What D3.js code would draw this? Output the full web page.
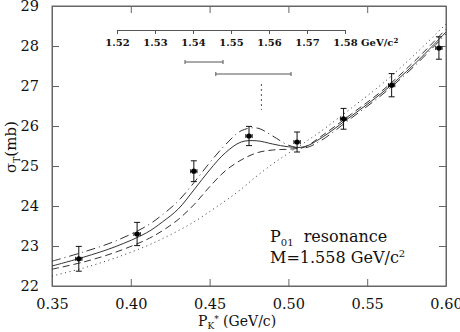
<!DOCTYPE html>
<html>
<head>
<meta charset="utf-8">
<script src="https://cdn.jsdelivr.net/npm/d3@7"></script>
<style>
  body { margin: 0; background: #fff; }
  text { font-family: "DejaVu Serif", "Liberation Serif", serif; fill: #111; }
</style>
</head>
<body>
<div id="chart"></div>
<script>
// set the dimensions and margins of the graph
var margin = {top: 6, right: 14, bottom: 46, left: 52},
    width = 460 - margin.left - margin.right,
    height = 332 - margin.top - margin.bottom;

// model curves
var pGrid        = [0.35, 0.37, 0.39, 0.41, 0.42, 0.43, 0.44, 0.45, 0.46, 0.47, 0.48, 0.49, 0.50, 0.51, 0.52, 0.54, 0.56, 0.58, 0.60];
var solidVals    = [22.50, 22.72, 22.98, 23.33, 23.60, 23.92, 24.40, 24.90, 25.33, 25.60, 25.63, 25.55, 25.48, 25.48, 25.68, 26.25, 26.85, 27.55, 28.35];
var dashDotVals  = [22.62, 22.85, 23.12, 23.50, 23.78, 24.12, 24.58, 25.08, 25.53, 25.88, 25.95, 25.75, 25.52, 25.45, 25.62, 26.20, 26.80, 27.50, 28.30];
var dashedVals   = [22.42, 22.60, 22.84, 23.16, 23.38, 23.66, 24.03, 24.48, 24.88, 25.15, 25.33, 25.40, 25.42, 25.47, 25.72, 26.30, 26.90, 27.62, 28.42];
var dottedVals   = [22.25, 22.45, 22.70, 23.00, 23.18, 23.38, 23.60, 23.86, 24.13, 24.42, 24.75, 25.05, 25.32, 25.58, 25.85, 26.45, 27.07, 27.78, 28.55];

// measured points
var pointP     = [0.367, 0.404, 0.440, 0.475, 0.5055, 0.535, 0.5655, 0.5955];
var pointSigma = [22.68, 23.30, 24.87, 25.75, 25.60, 26.18, 27.02, 27.95];
var pointErr   = [0.31, 0.29, 0.26, 0.24, 0.25, 0.26, 0.29, 0.28];
var pointPErr  = 0.002;

// ticks
var xTicks = [0.35, 0.40, 0.45, 0.50, 0.55, 0.60];
var yTicks = [22, 23, 24, 25, 26, 27, 28, 29];

// mass scale inset
var massTicks = [1.52, 1.53, 1.54, 1.55, 1.56, 1.57, 1.58];
var massBarLo = [1.5379, 1.546];
var massBarHi = [1.5479, 1.5658];
var massPeak = 1.558;

function init(){
    createChart();
}

function createChart(){
    var svg = d3.select("#chart")
    .append("svg")
    .attr("width", width + margin.left + margin.right)
    .attr("height", height + margin.top + margin.bottom)
    .append("g")
    .attr("transform", "translate(" + margin.left + "," + margin.top + ")");

    var x = d3.scaleLinear().domain([0.35, 0.60]).range([0, width]);
    var y = d3.scaleLinear().domain([22, 29]).range([height, 0]);

    var axisColor = "#666";

    // bottom and left axes, ticks pointing in
    var gx = svg.append("g")
    .attr("transform", "translate(0," + height + ")")
    .call(d3.axisBottom(x).tickValues(xTicks).tickFormat(d3.format(".2f"))
          .tickSize(-7).tickSizeOuter(0).tickPadding(13));
    var gy = svg.append("g")
    .call(d3.axisLeft(y).tickValues(yTicks).tickFormat(d3.format("d"))
          .tickSize(-7).tickSizeOuter(0).tickPadding(13));
    // mirrored top and right ticks
    var gt = svg.append("g")
    .call(d3.axisTop(x).tickValues(xTicks).tickFormat("").tickSize(-7).tickSizeOuter(0));
    var gr = svg.append("g")
    .attr("transform", "translate(" + width + ",0)")
    .call(d3.axisRight(y).tickValues(yTicks).tickFormat("").tickSize(-7).tickSizeOuter(0));

    [gx, gy, gt, gr].forEach(function(g){
        g.selectAll("path").attr("stroke", axisColor);
        g.selectAll("line").attr("stroke", axisColor);
        g.selectAll("text").style("font-size", "14.5px")
         .style("font-family", "'DejaVu Serif', serif").attr("fill", "#111");
    });

    svg.append("rect")
    .attr("width", width).attr("height", height)
    .attr("fill", "none").attr("stroke", axisColor);

    // curves
    var line = d3.line()
    .x(function(d){ return x(d[0]); })
    .y(function(d){ return y(d[1]); })
    .curve(d3.curveCatmullRom.alpha(0.5));

    var curves = [
        {vals: solidVals,   dash: null},
        {vals: dashDotVals, dash: "9,4,1,4"},
        {vals: dashedVals,  dash: "7,4"},
        {vals: dottedVals,  dash: "1,3.5"}
    ];
    curves.forEach(function(c){
        svg.append("path")
        .datum(pGrid.map(function(p, i){ return [p, c.vals[i]]; }))
        .attr("d", line)
        .attr("fill", "none")
        .attr("stroke", "#333")
        .attr("stroke-width", 1)
        .attr("stroke-dasharray", c.dash);
    });

    // data points with error bars
    var pts = pointP.map(function(p, i){ return {p: p, s: pointSigma[i], e: pointErr[i]}; });
    var gp = svg.append("g").attr("stroke", "#111").attr("stroke-width", 1);
    pts.forEach(function(d){
        var cx = x(d.p), cy = y(d.s);
        var y0 = y(d.s - d.e), y1 = y(d.s + d.e);
        var x0 = x(d.p - pointPErr), x1 = x(d.p + pointPErr);
        gp.append("line").attr("x1", cx).attr("x2", cx).attr("y1", y0).attr("y2", y1);
        gp.append("line").attr("x1", cx - 3).attr("x2", cx + 3).attr("y1", y0).attr("y2", y0);
        gp.append("line").attr("x1", cx - 3).attr("x2", cx + 3).attr("y1", y1).attr("y2", y1);
        gp.append("line").attr("x1", x0).attr("x2", x1).attr("y1", cy).attr("y2", cy);
        gp.append("line").attr("x1", x0).attr("x2", x0).attr("y1", cy - 2).attr("y2", cy + 2);
        gp.append("line").attr("x1", x1).attr("x2", x1).attr("y1", cy - 2).attr("y2", cy + 2);
    });
    svg.append("g").selectAll("circle")
    .data(pts).enter()
    .append("circle")
    .attr("cx", function(d){ return x(d.p); })
    .attr("cy", function(d){ return y(d.s); })
    .attr("r", 2.6)
    .attr("fill", "#000");

    // mass scale inset
    var m = d3.scaleLinear().domain([1.52, 1.58]).range([65, 293]);
    var gm = svg.append("g")
    .attr("transform", "translate(0,24)")
    .call(d3.axisBottom(m).tickValues(massTicks).tickFormat(d3.format(".2f"))
          .tickSize(4).tickSizeOuter(4).tickPadding(5));
    gm.selectAll("path").attr("stroke", "#555");
    gm.selectAll("line").attr("stroke", "#555");
    gm.selectAll("text").style("font-size", "10px").style("font-weight", "bold")
      .style("font-family", "'DejaVu Serif', serif").attr("fill", "#222");
    gm.append("text")
    .attr("x", m(1.58) + 16).attr("y", 9).attr("dy", "0.71em")
    .style("font-size", "10px").style("font-weight", "bold")
    .attr("text-anchor", "start").attr("fill", "#222")
    .text("GeV/c")
    .append("tspan").attr("dy", "-0.4em").style("font-size", "7px").text("2");

    var barY = [56, 68];
    massBarLo.forEach(function(lo, i){
        var hi = massBarHi[i];
        var g = svg.append("g").attr("stroke", "#555");
        g.append("line").attr("x1", m(lo)).attr("x2", m(hi)).attr("y1", barY[i]).attr("y2", barY[i]);
        g.append("line").attr("x1", m(lo)).attr("x2", m(lo)).attr("y1", barY[i] - 2).attr("y2", barY[i] + 2);
        g.append("line").attr("x1", m(hi)).attr("x2", m(hi)).attr("y1", barY[i] - 2).attr("y2", barY[i] + 2);
    });
    svg.append("line")
    .attr("x1", m(massPeak)).attr("x2", m(massPeak))
    .attr("y1", 78).attr("y2", 104)
    .attr("stroke", "#555").attr("stroke-dasharray", "2,3");

    // legend text
    var lg = svg.append("g").style("font-size", "16px");
    var t1 = lg.append("text").attr("x", 218).attr("y", 236);
    t1.append("tspan").text("P");
    t1.append("tspan").attr("dy", 4).style("font-size", "10px").text("01");
    t1.append("tspan").attr("dy", -4).text("\u00a0 resonance");
    var t2 = lg.append("text").attr("x", 218).attr("y", 257);
    t2.append("tspan").text("M=1.558 GeV/c");
    t2.append("tspan").attr("dy", -6).style("font-size", "10px").text("2");

    // axis labels
    var xl = svg.append("text")
    .attr("x", 146).attr("y", 320)
    .style("font-size", "14px");
    xl.append("tspan").text("P");
    xl.append("tspan").attr("dy", 3).style("font-size", "9px").text("K");
    xl.append("tspan").attr("dy", -7).style("font-size", "9px").text("*");
    xl.append("tspan").attr("dy", 4).text(" (GeV/c)");

    var yl = svg.append("text")
    .attr("transform", "translate(" + (16 - margin.left) + ",141) rotate(-90)")
    .attr("text-anchor", "middle")
    .style("font-size", "15px");
    yl.append("tspan").text("\u03c3");
    yl.append("tspan").attr("dy", 4).style("font-size", "9px").text("T");
    yl.append("tspan").attr("dy", -4).text("(mb)");
}

init();
</script>
</body>
</html>
